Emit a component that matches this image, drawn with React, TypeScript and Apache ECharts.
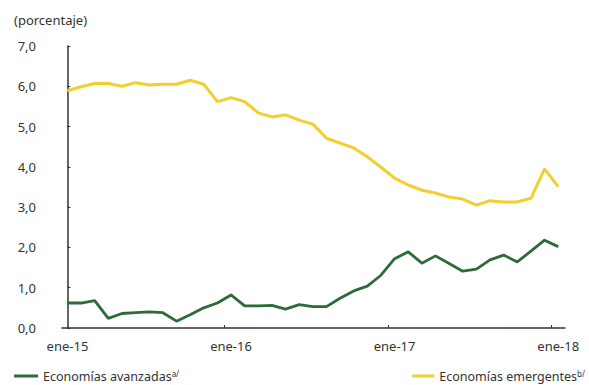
import React, { useEffect, useRef } from "react";
import * as echarts from "echarts";

const months: string[] = [
  "ene-15", "feb-15", "mar-15", "abr-15", "may-15", "jun-15", "jul-15", "ago-15", "sep-15", "oct-15", "nov-15", "dic-15",
  "ene-16", "feb-16", "mar-16", "abr-16", "may-16", "jun-16", "jul-16", "ago-16", "sep-16", "oct-16", "nov-16", "dic-16",
  "ene-17", "feb-17", "mar-17", "abr-17", "may-17", "jun-17", "jul-17", "ago-17", "sep-17", "oct-17", "nov-17", "dic-17",
  "ene-18",
];

const avanzadas: number[] = [
  0.62, 0.62, 0.68, 0.24, 0.36, 0.38, 0.40, 0.38, 0.17, 0.33, 0.50, 0.62,
  0.82, 0.55, 0.55, 0.56, 0.47, 0.58, 0.53, 0.53, 0.74, 0.92, 1.04, 1.31,
  1.72, 1.89, 1.61, 1.79, 1.60, 1.41, 1.46, 1.69, 1.81, 1.64, 1.91, 2.18,
  2.02,
];

const emergentes: number[] = [
  5.89, 5.99, 6.07, 6.07, 6.00, 6.09, 6.03, 6.05, 6.05, 6.15, 6.05, 5.62,
  5.72, 5.62, 5.34, 5.24, 5.29, 5.16, 5.06, 4.71, 4.59, 4.47, 4.25, 3.99,
  3.72, 3.55, 3.42, 3.35, 3.25, 3.20, 3.05, 3.16, 3.13, 3.13, 3.22, 3.95,
  3.51,
];

const xLabelIdx: number[] = [0, 12, 24, 36];
const xTickPos: number[] = [11.5, 23.5, 35.5];
const yTicks: number[] = [0, 1, 2, 3, 4, 5, 6, 7];

const seriesNames = ["Economías avanzadas", "Economías emergentes"];
const seriesSup = ["a/", "b/"];
const colors = ["#2d6b38", "#f2cf2c"];

const FONT = "'Noto Sans', sans-serif";
const TXT = "#333333";

export default function App() {
  const ref = useRef<HTMLDivElement>(null);
  useEffect(() => {
    if (!ref.current) return;
    const chart = echarts.init(ref.current, undefined, { renderer: "svg" });
    const rich = {
      sup: { fontSize: 8, fontFamily: FONT, color: TXT, verticalAlign: "top", lineHeight: 14, padding: [0, 0, 6, 0] },
    };
    chart.setOption({
      animation: false,
      backgroundColor: "#ffffff",
      textStyle: { fontFamily: FONT },
      title: {
        text: "(porcentaje)",
        left: 9,
        top: 8,
        textStyle: { fontFamily: FONT, fontSize: 13, fontWeight: "normal", color: TXT },
      },
      legend: [
        {
          data: [seriesNames[0]],
          left: 14,
          top: 369,
          icon: "rect",
          itemWidth: 24,
          itemHeight: 3,
          padding: 0,
          textStyle: { fontFamily: FONT, fontSize: 12.5, color: TXT, rich },
          formatter: (n: string) => `${n}{sup|${seriesSup[0]}}`,
        },
        {
          data: [seriesNames[1]],
          right: 4,
          top: 369,
          icon: "rect",
          itemWidth: 22,
          itemHeight: 3,
          padding: 0,
          textStyle: { fontFamily: FONT, fontSize: 12.5, color: TXT, rich },
          formatter: (n: string) => `${n}{sup|${seriesSup[1]}}`,
        },
      ],
      grid: { left: 62, right: 24, top: 46, bottom: 57, containLabel: false },
      xAxis: {
        type: "value",
        min: -0.4,
        max: 36.5,
        splitLine: { show: false },
        axisLine: { show: true, lineStyle: { color: TXT, width: 1.5 } },
        axisTick: { show: true, inside: true, length: 3, customValues: xTickPos, lineStyle: { color: TXT } },
        axisLabel: {
          customValues: xLabelIdx,
          formatter: (v: number) => months[Math.round(v)] ?? "",
          fontFamily: FONT,
          fontSize: 13,
          color: TXT,
          margin: 11,
        },
      },
      yAxis: {
        type: "value",
        min: 0,
        max: 7,
        interval: 1,
        splitLine: { show: false },
        axisLine: { show: true, lineStyle: { color: TXT, width: 1.5 } },
        axisTick: { show: true, inside: true, length: 3, lineStyle: { color: TXT } },
        axisLabel: {
          customValues: yTicks,
          formatter: (v: number) => v.toFixed(1).replace(".", ","),
          fontFamily: FONT,
          fontSize: 13,
          color: TXT,
          margin: 26,
        },
      },
      series: [
        {
          name: seriesNames[0],
          type: "line",
          data: avanzadas.map((v, i) => [i, v]),
          showSymbol: false,
          lineStyle: { color: colors[0], width: 2.8 },
          itemStyle: { color: colors[0] },
        },
        {
          name: seriesNames[1],
          type: "line",
          data: emergentes.map((v, i) => [i, v]),
          showSymbol: false,
          lineStyle: { color: colors[1], width: 3 },
          itemStyle: { color: colors[1] },
        },
      ],
    });
    return () => chart.dispose();
  }, []);
  return <div ref={ref} style={{ width: 589, height: 385, position: "absolute", left: 0, top: 0 }} />;
}
